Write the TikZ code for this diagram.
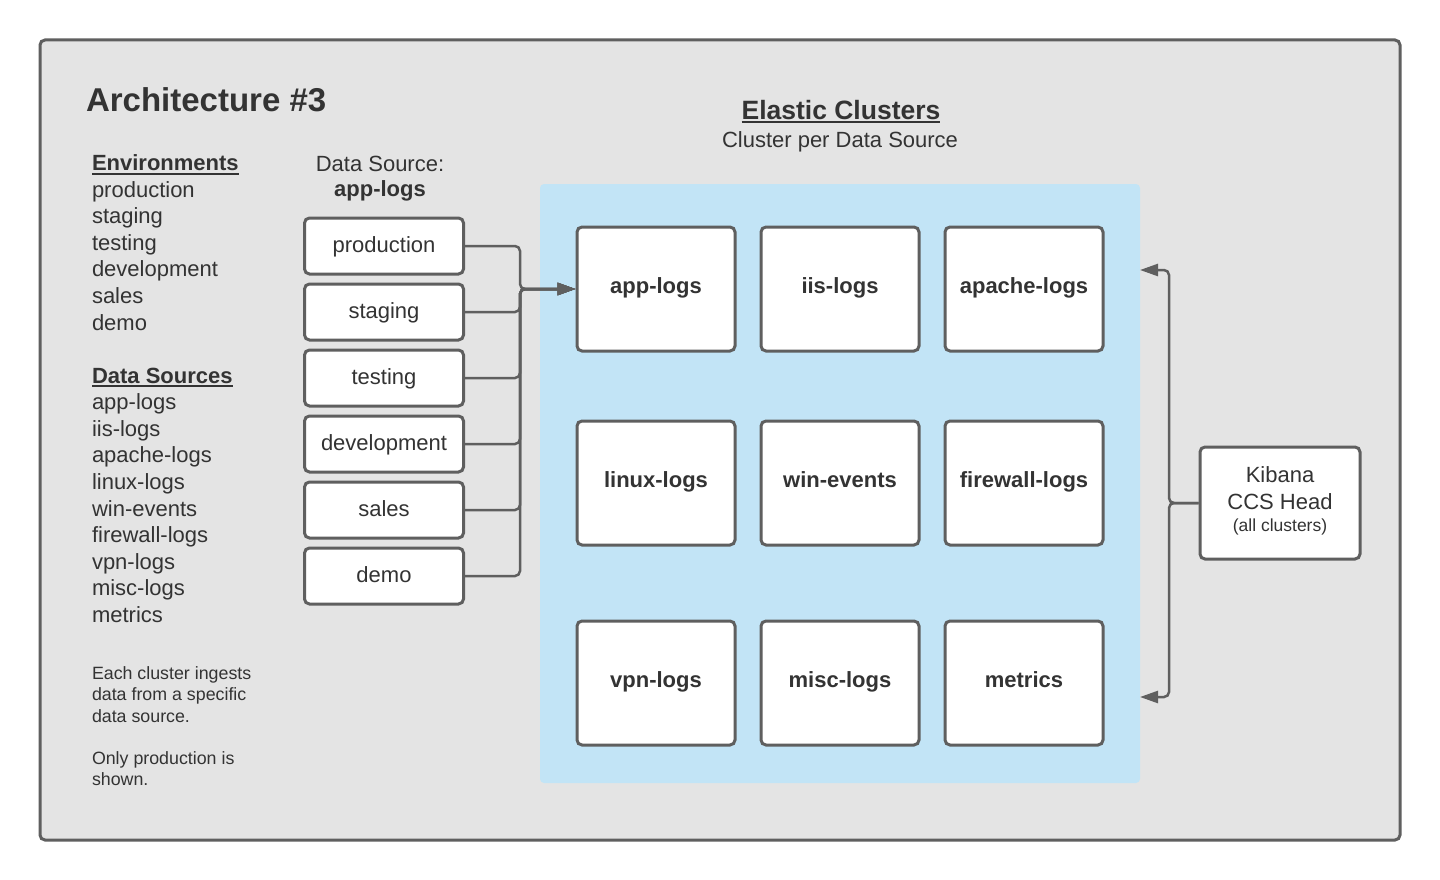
\documentclass[tikz,border=0pt]{standalone}
\usepackage{fontspec}
\setmainfont{Liberation Sans}
\usetikzlibrary{arrows.meta,calc}
\definecolor{bgc}{HTML}{E4E4E4}
\definecolor{linec}{HTML}{5F5F5F}
\definecolor{txt}{HTML}{333333}
\definecolor{bluec}{HTML}{C2E4F6}
\begin{document}
\begin{tikzpicture}[x=1pt,y=-1pt,
  lbl/.style={inner sep=0pt, outer sep=0pt, text=txt, font=\fontsize{22}{26.6}\selectfont},
  note/.style={inner sep=0pt, outer sep=0pt, text=txt, font=\fontsize{17.8}{21.3}\selectfont},
  envbox/.style={draw=linec, line width=3pt, fill=white, rounded corners=5pt,
    minimum width=159pt, minimum height=56pt, inner sep=0pt, text=txt,
    text height=16pt, text depth=2.6pt,
    font=\fontsize{22}{26.6}\selectfont},
  clbox/.style={draw=linec, line width=3pt, fill=white, rounded corners=5pt,
    minimum width=158pt, minimum height=124pt, inner sep=0pt, text=txt,
    text height=16pt, text depth=7pt,
    font=\bfseries\fontsize{22}{26.6}\selectfont},
  conn/.style={draw=linec, line width=2.5pt, rounded corners=5pt},
  tipend/.style={-{Triangle[length=18pt,width=12pt]}},
  uline/.style={draw=txt, line width=2pt}
]
\useasboundingbox (0,0) rectangle (1440,880);
\fill[white] (0,0) rectangle (1440,880);
\draw[draw=linec, fill=bgc, line width=3pt, rounded corners=5pt] (40,40) rectangle (1400,840);

% title
\node[lbl, anchor=base west, font=\bfseries\fontsize{33}{40}\selectfont] (title) at (86,112) {Architecture \#3};

% left lists
\node[lbl, anchor=base west, font=\bfseries\fontsize{22}{26.6}\selectfont] (envh) at (92,170.5) {Environments};
\draw[uline] ([yshift=-3pt]envh.base west) -- ([yshift=-3pt]envh.base east);
\foreach \t [count=\i from 1] in {production,staging,testing,development,sales,demo}
  \node[lbl, anchor=base west] (envl\i) at (92,{170.5+26.6*\i}) {\t};

\node[lbl, anchor=base west, font=\bfseries\fontsize{22}{26.6}\selectfont] (dsh) at (92,383) {Data Sources};
\draw[uline] ([yshift=-3pt]dsh.base west) -- ([yshift=-3pt]dsh.base east);
\foreach \t [count=\i from 1] in {app-logs,iis-logs,apache-logs,linux-logs,win-events,firewall-logs,vpn-logs,misc-logs,metrics}
  \node[lbl, anchor=base west] (dsl\i) at (92,{383+26.6*\i}) {\t};

% notes
\node[note, anchor=base west] (n1) at (92,679) {Each cluster ingests};
\node[note, anchor=base west] (n2) at (92,700.5) {data from a specific};
\node[note, anchor=base west] (n3) at (92,722) {data source.};
\node[note, anchor=base west] (n4) at (92,764) {Only production is};
\node[note, anchor=base west] (n5) at (92,785.5) {shown.};

% data source header
\node[lbl, anchor=base] (dsrc) at (380,171.5) {Data Source:};
\node[lbl, anchor=base, font=\bfseries\fontsize{22}{26.6}\selectfont] (dsrcb) at (380,196.5) {app-logs};

% elastic clusters header
\node[lbl, anchor=base, font=\bfseries\fontsize{26.5}{30}\selectfont] (ech) at (841,119.3) {Elastic Clusters};
\draw[uline] ([yshift=-3pt]ech.base west) -- ([yshift=-3pt]ech.base east);
\node[lbl, anchor=base] (ecs) at (840,147.5) {Cluster per Data Source};

% blue region
\fill[bluec, rounded corners=4pt] (540,184) rectangle (1140,783);

% env boxes
\foreach \t [count=\i from 0] in {production,staging,testing,development,sales,demo}
  \node[envbox] (env\i) at (384,{246+66*\i}) {\t};

% cluster boxes
\node[clbox] (c11) at (656,289) {app-logs};
\node[clbox] (c12) at (840,289) {iis-logs};
\node[clbox] (c13) at (1024,289) {apache-logs};
\node[clbox] (c21) at (656,483) {linux-logs};
\node[clbox] (c22) at (840,483) {win-events};
\node[clbox] (c23) at (1024,483) {firewall-logs};
\node[clbox] (c31) at (656,683) {vpn-logs};
\node[clbox] (c32) at (840,683) {misc-logs};
\node[clbox] (c33) at (1024,683) {metrics};

% kibana
\node[envbox, minimum width=160pt, minimum height=112pt] (kib) at (1280,503) {};
\node[lbl] (kib1) at (1280,475) {Kibana};
\node[lbl] (kib2) at (1280,502) {CCS Head};
\node[lbl, font=\fontsize{17.5}{21}\selectfont] (kib3) at (1280,526.5) {(all clusters)};

% env connectors
\coordinate (jn) at (520,289);
\foreach \i in {0,...,5}
  \draw[conn, tipend] (env\i.east) -| (jn) -- (c11.west);

% kibana connectors
\coordinate (kj) at (1169,503);
\coordinate (ktop) at (1140,270);
\coordinate (kbot) at (1140,697);
\draw[conn, tipend] (kib.west) -- (kj) |- (ktop);
\draw[conn, tipend] (kib.west) -- (kj) |- (kbot);
\end{tikzpicture}
\end{document}
